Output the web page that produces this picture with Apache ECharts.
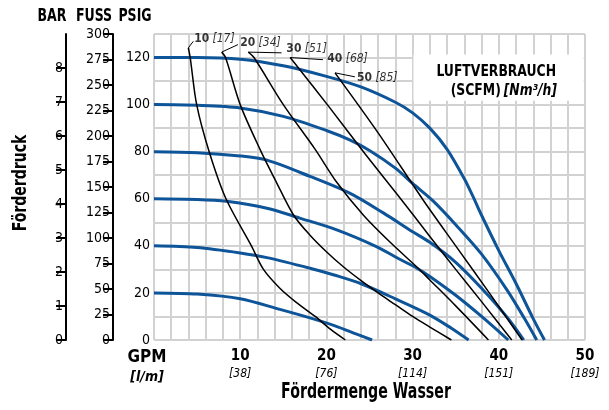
<!DOCTYPE html>
<html><head><meta charset="utf-8">
<script src="https://cdn.jsdelivr.net/npm/echarts@6/dist/echarts.min.js"></script>
<style>html,body{margin:0;padding:0;background:#fff}#c{width:609px;height:410px}</style>
</head><body><div id="c"></div>
<script>
// ---------- data ----------
const xTickValues = [10, 20, 30, 40, 50];
const xTickMetric = ['[38]', '[76]', '[114]', '[151]', '[189]'];
const psiTicks = [0, 20, 40, 60, 80, 100, 120];
const barTicks = [0, 1, 2, 3, 4, 5, 6, 7, 8];
const fussTicks = [0, 25, 50, 75, 100, 125, 150, 175, 200, 225, 250, 275, 300];

// pump curves: [GPM, PSIG]
const pump120 = [[0,120],[5,120],[10,119.3],[15,116.5],[20,112],[24,107.5],[28,101],[30,96.5],[32,90],[34,81],[36,68.5],[37,61],[38,53],[40,38],[42,24],[44,9],[45.3,0]];
const pump100 = [[0,100],[5,99.7],[10,98.6],[15,95],[20,89],[22.7,85],[25,80.5],[28,73],[30,66.5],[32.4,59],[35,49],[38,36.5],[41,21],[43,9],[44.4,0]];
const pump80  = [[0,80],[5,79.6],[10,78.2],[13.1,76.4],[18.1,69.5],[22.7,62.4],[26.6,54],[30,46],[32,41.5],[35,33],[38,22],[41,9.5],[42.9,0]];
const pump60  = [[0,60],[5,59.7],[8.4,58.9],[13.1,56],[16.9,51.8],[21.2,46.8],[25.8,39.7],[28.4,34.5],[30.5,30.5],[32,27],[35,19],[38,10],[41.1,0]];
const pump40  = [[0,40],[5,39.3],[10,37],[13.1,35],[18.1,30.5],[21,27.5],[24.1,23.8],[28,17.5],[32,10.6],[34.5,5],[36.5,0]];
const pump20  = [[0,20],[5,19.5],[10,17.5],[14.6,13],[18,9.5],[21,6],[23.5,2.5],[25.3,0]];

// air consumption curves: [GPM, PSIG]
const air10 = [[3.98,124.1],[4.2,120],[4.95,100],[6.4,80],[8.35,60],[11.3,40],[12.7,30],[14.6,22],[16.5,16],[18.7,10],[20.5,4.5],[22.2,0]];
const air20 = [[7.85,122.3],[8.3,120],[10,100],[12.3,81],[14.2,67],[16.2,53],[18.1,44.5],[20,37.5],[22,31],[24.1,25],[26,20],[28,15],[30,10],[32,5.5],[34.5,0]];
const air30 = [[10.94,122.3],[11.6,120],[15,100],[18.7,81],[21.2,67],[24.3,53],[27.4,41.5],[30.5,31],[32,25.5],[35,14.5],[38.8,0]];
const air40 = [[15.8,120],[20.4,98.6],[24.5,79],[28.7,59.6],[32,44],[35,30],[38,16.3],[41.5,0]];
const air50 = [[21.0,113.5],[26,88],[31.2,59.6],[35,40],[39,19.5],[42.7,0]];

const airScfm = ['10', '20', '30', '40', '50'];
const airNm3h = ['[17]', '[34]', '[51]', '[68]', '[85]'];

// ---------- layout / styles ----------
const FONT = '"DejaVu Sans Condensed","Liberation Sans",sans-serif';
const BLUE = '#0d5499';
const GRID = '#d2d2d2';
const leaderEnds = [[4.56,126.9],[9.74,125.5],[14.8,122],[19.6,119.1],[23.3,111.8]];
const labelAnchors = [[4.65,128.1],[10.0,126.4],[15.35,123.8],[20.1,119.4],[23.55,111.5]];

const pumps = [pump120, pump100, pump80, pump60, pump40, pump20];
const airs = [air10, air20, air30, air40, air50];

const series = [];
pumps.forEach((d, i) => {
  const s = {
    type: 'line', data: d, smooth: 0.3, symbol: 'none',
    lineStyle: { color: BLUE, width: 3 }, z: 3, silent: true
  };
  if (i === 0) {
    s.markArea = {
      silent: true,
      itemStyle: { color: '#ffffff', opacity: 1 },
      data: [[{ coord: [30.1, 121.3] }, { coord: [49.85, 101.6] }]]
    };
  }
  series.push(s);
});
airs.forEach((d, i) => {
  series.push({
    type: 'line', data: d, smooth: 0.3, symbol: 'none',
    lineStyle: { color: '#000', width: 1.5 }, z: 4, silent: true
  });
  series.push({
    type: 'line', data: [d[0], leaderEnds[i]], symbol: 'none',
    lineStyle: { color: '#000', width: 1 }, z: 4, silent: true
  });
});
series.push({
  type: 'scatter', symbolSize: 0.1, silent: true, z: 5,
  data: labelAnchors.map((p, i) => ({ value: p, name: String(i) })),
  itemStyle: { color: 'rgba(0,0,0,0)' },
  label: {
    show: true, position: 'right', distance: 0,
    formatter: p => '{b|' + airScfm[+p.name] + '} {i|' + airNm3h[+p.name] + '}',
    rich: {
      b: { fontFamily: FONT, fontWeight: 'bold', fontSize: 12, color: '#000' },
      i: { fontFamily: FONT, fontStyle: 'italic', fontSize: 12, color: '#000' }
    }
  }
});

const chart = echarts.init(document.getElementById('c'), null, { renderer: 'canvas' });
chart.setOption({
  animation: false,
  backgroundColor: '#fff',
  grid: { left: 154, right: 24, top: 34, bottom: 70, containLabel: false },
  xAxis: {
    type: 'value', min: 0, max: 50, interval: 2,
    axisLine: { show: false }, axisTick: { show: false },
    splitLine: { show: true, lineStyle: { color: GRID, width: 2 } },
    axisLabel: {
      margin: 8,
      formatter: v => {
        if (v === 0) return '{g|GPM}\n{gi|[l/m]}';
        const k = xTickValues.indexOf(v);
        return k >= 0 ? '{b|' + v + '}\n{i|' + xTickMetric[k] + '}' : '';
      },
      rich: {
        b: { fontFamily: FONT, fontWeight: 'bold', fontSize: 15, lineHeight: 17, color: '#000' },
        i: { fontFamily: FONT, fontStyle: 'italic', fontSize: 12, lineHeight: 17, color: '#000' },
        g: { fontFamily: FONT, fontWeight: 'bold', fontSize: 17, lineHeight: 20, color: '#000', padding: [0, 14, 0, 0] },
        gi: { fontFamily: FONT, fontWeight: 'bold', fontStyle: 'italic', fontSize: 14, lineHeight: 18, color: '#000', padding: [0, 14, 0, 0] }
      }
    }
  },
  yAxis: [
    {
      type: 'value', min: 0, max: 130, interval: 10, position: 'left',
      axisLine: { show: false }, axisTick: { show: false },
      splitLine: { show: true, lineStyle: { color: GRID, width: 2 } },
      axisLabel: {
        margin: 4, fontFamily: FONT, fontSize: 14, color: '#000',
        formatter: v => psiTicks.indexOf(v) >= 0 ? String(v) : ''
      }
    },
    {
      type: 'value', min: 0, max: 9, interval: 1, position: 'left', offset: 88,
      axisLine: { show: true, lineStyle: { color: '#000', width: 2 } },
      axisTick: { show: true, length: 10, lineStyle: { color: '#000', width: 2 }, customValues: barTicks },
      splitLine: { show: false },
      axisLabel: {
        margin: 3, fontFamily: FONT, fontSize: 14, color: '#000',
        customValues: barTicks,
        formatter: v => barTicks.indexOf(v) >= 0 ? String(v) : ''
      }
    },
    {
      type: 'value', min: 0, max: 300, interval: 25, position: 'left', offset: 41,
      axisLine: { show: true, lineStyle: { color: '#000', width: 2 } },
      axisTick: { show: true, length: 10, lineStyle: { color: '#000', width: 2 } },
      splitLine: { show: false },
      axisLabel: {
        margin: 3, fontFamily: FONT, fontSize: 14, color: '#000',
        formatter: v => fussTicks.indexOf(v) >= 0 ? String(v) : ''
      }
    }
  ],
  series: series,
  graphic: [
    { type: 'text', x: 52, y: 17, scaleX: 0.82, style: { text: 'BAR', align: 'center', verticalAlign: 'middle', font: 'bold 17px ' + FONT, fill: '#000' } },
    { type: 'text', x: 94, y: 17, scaleX: 0.82, style: { text: 'FUSS', align: 'center', verticalAlign: 'middle', font: 'bold 17px ' + FONT, fill: '#000' } },
    { type: 'text', x: 135, y: 17, scaleX: 0.82, style: { text: 'PSIG', align: 'center', verticalAlign: 'middle', font: 'bold 17px ' + FONT, fill: '#000' } },
    { type: 'text', x: 21, y: 183, rotation: Math.PI / 2, scaleX: 0.78, style: { text: 'Förderdruck', align: 'center', verticalAlign: 'middle', font: 'bold 20px ' + FONT, fill: '#000' } },
    { type: 'text', x: 366, y: 393, scaleX: 0.75, style: { text: 'Fördermenge Wasser', align: 'center', verticalAlign: 'middle', font: 'bold 21px ' + FONT, fill: '#000' } },
    { type: 'text', x: 556, y: 72, z: 10, scaleX: 0.86, style: { text: 'LUFTVERBRAUCH', align: 'right', verticalAlign: 'middle', font: 'bold 16px ' + FONT, fill: '#000' } },
    { type: 'text', x: 557, y: 91, z: 10, scaleX: 0.86, style: {
      text: '{b|(SCFM)} {bi|[Nm³/h]}', align: 'right', verticalAlign: 'middle',
      rich: {
        b: { fontFamily: FONT, fontWeight: 'bold', fontSize: 16, fill: '#000' },
        bi: { fontFamily: FONT, fontWeight: 'bold', fontStyle: 'italic', fontSize: 16, fill: '#000' }
      } } }
  ]
});
</script></body></html>
